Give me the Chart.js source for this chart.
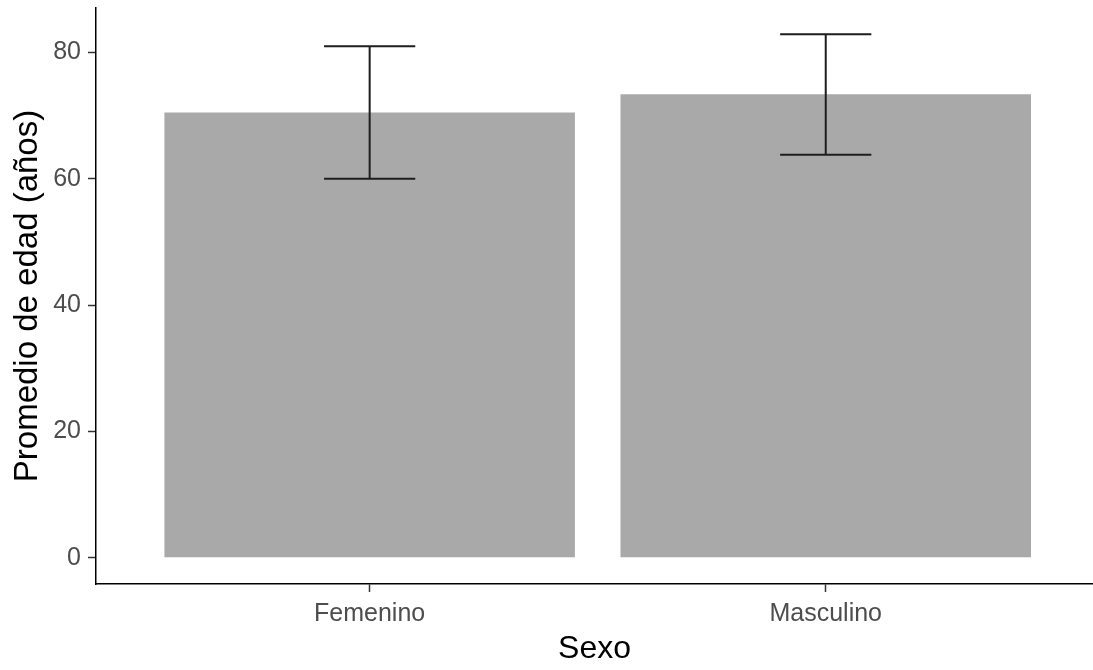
<!DOCTYPE html>
<html>
<head>
<meta charset="utf-8">
<script src="https://cdn.jsdelivr.net/npm/chart.js@4/dist/chart.umd.min.js"></script>
<style>
  html, body { margin: 0; padding: 0; background: #ffffff; }
  #wrap { width: 1093px; height: 670px; }
</style>
</head>
<body>
<div id="wrap"><canvas id="c" width="1093" height="670"></canvas></div>
<script>
const categories = ['Femenino', 'Masculino'];
const means = [70.5, 73.4];
const errLow = [60.0, 63.8];
const errHigh = [81.0, 82.9];
const yTicks = [0, 20, 40, 60, 80];
const xTitle = 'Sexo';
const yTitle = 'Promedio de edad (años)';

const FONT = "'Liberation Sans', Arial, Helvetica, sans-serif";

const errorBarPlugin = {
  id: 'errorBars',
  afterDatasetsDraw(chart) {
    const ctx = chart.ctx;
    const xs = chart.scales.x, ys = chart.scales.y;
    ctx.save();
    ctx.strokeStyle = '#1e1e1e';
    ctx.lineWidth = 2;
    ctx.lineCap = 'butt';
    categories.forEach((c, i) => {
      const xv = i + 1;
      const xc = xs.getPixelForValue(xv);
      const xl = xs.getPixelForValue(xv - 0.1);
      const xr = xs.getPixelForValue(xv + 0.1);
      const yl = ys.getPixelForValue(errLow[i]);
      const yh = ys.getPixelForValue(errHigh[i]);
      ctx.beginPath();
      ctx.moveTo(xc, yl); ctx.lineTo(xc, yh);
      ctx.moveTo(xl, yl); ctx.lineTo(xr, yl);
      ctx.moveTo(xl, yh); ctx.lineTo(xr, yh);
      ctx.stroke();
    });
    ctx.restore();
  }
};

const yMaxData = Math.max(...errHigh);
const yMin = -0.05 * yMaxData;
const yMax = yMaxData * 1.05;

new Chart(document.getElementById('c'), {
  type: 'bar',
  data: {
    datasets: [{
      data: categories.map((c, i) => ({ x: i + 1, y: means[i] })),
      backgroundColor: '#A9A9A9',
      borderWidth: 0,
      categoryPercentage: 1.0,
      barPercentage: 0.9
    }]
  },
  options: {
    responsive: false,
    animation: false,
    layout: { padding: { top: 8, right: 0, left: 0, bottom: 0 } },
    plugins: { legend: { display: false }, tooltip: { enabled: false } },
    scales: {
      x: {
        type: 'linear',
        min: 0.4,
        max: 2.586,
        offset: false,
        afterBuildTicks(scale) { scale.ticks = categories.map((c, i) => ({ value: i + 1 })); },
        afterFit(scale) { scale.height = 86; scale.paddingLeft = 0; scale.paddingRight = 0; },
        grid: { display: true, offset: false, drawOnChartArea: false, drawTicks: true, tickLength: 8, tickColor: '#333333', tickWidth: 1.5 },
        border: { display: true, color: '#000000', width: 1.5 },
        ticks: {
          autoSkip: false, maxRotation: 0, padding: 7,
          color: '#4D4D4D',
          font: { family: FONT, size: 25 },
          callback: (v, idx) => categories[idx]
        },
        title: { display: true, text: xTitle, color: '#000000', font: { family: FONT, size: 32 }, padding: { top: 0, bottom: 2 } }
      },
      y: {
        type: 'linear',
        min: yMin,
        max: yMax,
        afterBuildTicks(scale) { scale.ticks = yTicks.map(v => ({ value: v })); },
        afterFit(scale) { scale.width = 96; scale.paddingTop = 0; scale.paddingBottom = 0; },
        grid: { display: true, drawOnChartArea: false, drawTicks: true, tickLength: 8, tickColor: '#333333', tickWidth: 1.5 },
        border: { display: true, color: '#000000', width: 1.5 },
        ticks: {
          padding: 7,
          color: '#4D4D4D',
          font: { family: FONT, size: 25 },
          callback: (v) => String(v)
        },
        title: { display: true, text: yTitle, color: '#000000', font: { family: FONT, size: 33 }, padding: { top: 8, bottom: 0 } }
      }
    }
  },
  plugins: [errorBarPlugin]
});
</script>
</body>
</html>
